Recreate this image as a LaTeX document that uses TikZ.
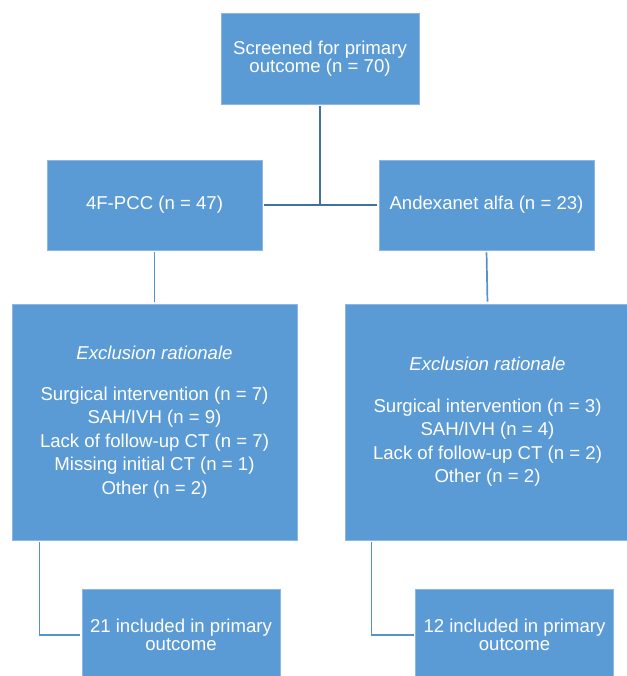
\documentclass[tikz,border=0pt]{standalone}
\usepackage{fontspec}
\setmainfont{Liberation Sans}
\usetikzlibrary{calc}
\definecolor{boxblue}{HTML}{5B9BD5}
\definecolor{boxedge}{HTML}{8DB6E2}
\definecolor{darkline}{HTML}{41719C}
\definecolor{lightline}{HTML}{5592D0}
\tikzset{
  flowbox/.style={fill=boxblue,draw=boxedge,line width=0.8pt,text=white,inner sep=0pt,
    align=center,font=\fontsize{18.6}{17.5}\selectfont},
  listbox/.style={flowbox,font=\fontsize{18.6}{23.5}\selectfont},
  topline/.style={darkline,line width=1.8pt},
  lowline/.style={lightline,line width=1.7pt}
}
\begin{document}
\begin{tikzpicture}[x=1pt,y=-1pt]
    \useasboundingbox (0,0) rectangle (626,676);
    % boxes
    \node[flowbox,minimum width=198pt,minimum height=91pt] (screen) at (320,58.5)
      {Screened for primary\\outcome (n = 70)};
    \node[flowbox,minimum width=215pt,minimum height=90pt] (pcc) at (154.5,205) {4F-PCC (n = 47)};
    \node[flowbox,minimum width=215pt,minimum height=90pt] (andex) at (486.5,205) {Andexanet alfa (n = 23)};
    \node[listbox,minimum width=285pt,minimum height=236pt] (exclL) at (154.5,422)
      {\textit{Exclusion rationale}\\[17pt]
       Surgical intervention (n = 7)\\ SAH/IVH (n = 9)\\ Lack of follow-up CT (n = 7)\\
       Missing initial CT (n = 1)\\ Other (n = 2)};
    \node[listbox,minimum width=285pt,minimum height=236pt] (exclR) at (487.5,422)
      {\textit{Exclusion rationale}\\[18pt]
       Surgical intervention (n = 3)\\ SAH/IVH (n = 4)\\ Lack of follow-up CT (n = 2)\\
       Other (n = 2)};
    \node[flowbox,minimum width=198pt,minimum height=92pt] (inclL) at (181,635)
      {21 included in primary\\outcome};
    \node[flowbox,minimum width=198pt,minimum height=92pt] (inclR) at (514.5,635)
      {12 included in primary\\outcome};
    % connectors
    \coordinate (split) at (screen.south |- pcc.east);
    \draw[topline,shorten <=2pt] (screen.south) -- (split);
    \draw[topline,shorten <=1.5pt,shorten >=1.5pt] (pcc.east) -- (andex.west);
    \draw[lowline,shorten <=2pt,shorten >=2pt] (pcc.south) -- (exclL.north);
    \draw[lowline,shorten <=2pt,shorten >=2pt] (andex.south) -- (exclR.north);
    \coordinate (legL) at ($(exclL.south west)+(28,0)$);
    \coordinate (legR) at ($(exclR.south west)+(27,0)$);
    \draw[lowline,shorten <=1.5pt,shorten >=1.5pt] (legL) |- (inclL.west);
    \draw[lowline,shorten <=1.5pt,shorten >=1.5pt] (legR) |- (inclR.west);
\end{tikzpicture}
\end{document}
